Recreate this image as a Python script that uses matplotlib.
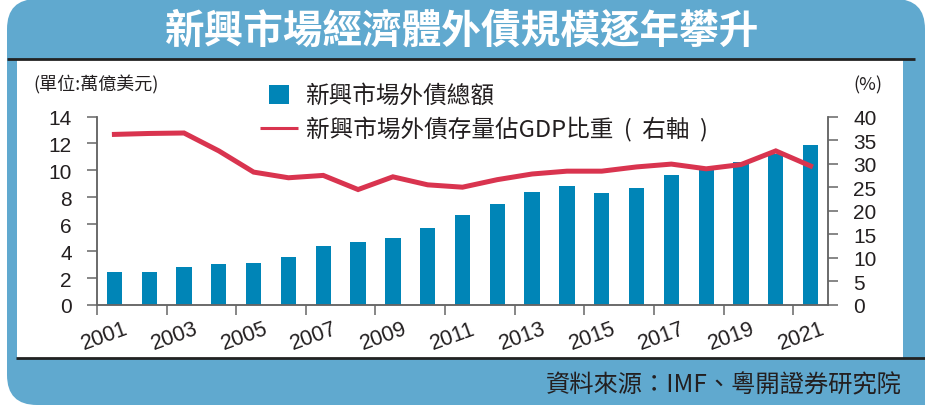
import matplotlib
matplotlib.use("Agg")
import matplotlib.pyplot as plt
from matplotlib.patches import FancyBboxPatch, Rectangle
from matplotlib.transforms import ScaledTranslation

plt.rcParams["font.family"] = ["Noto Sans CJK TC", "DejaVu Sans"]

# data
YEARS = list(range(2001, 2022))
DEBT_TOTAL = [2.45, 2.45, 2.82, 3.05, 3.12, 3.57, 4.38, 4.68, 4.98, 5.72, 6.69,
              7.50, 8.42, 8.86, 8.34, 8.69, 9.68, 10.2, 10.62, 11.2, 11.9]   # 萬億美元
DEBT_GDP = [36.2, 36.4, 36.5, 32.7, 28.2, 27.0, 27.5, 24.5, 27.2, 25.5, 25.0,
            26.6, 27.8, 28.4, 28.4, 29.3, 29.9, 28.9, 29.8, 32.7, 29.5]      # %
XTICKS = list(range(2001, 2022, 2))
LEFT_TICKS = list(range(0, 15, 2))
RIGHT_TICKS = list(range(0, 41, 5))

TITLE = "新興市場經濟體外債規模逐年攀升"
LEG_BAR = "新興市場外債總額"
LEG_LINE = "新興市場外債存量佔GDP比重  (  右軸  )"
UNIT_L = "(單位:萬億美元)"
UNIT_R = "(%)"
SOURCE = "資料來源：IMF、粵開證券研究院"

BLUE_BG = "#60A9CF"
BAR_C = "#0085B7"
LINE_C = "#D9344F"
AXIS_C = "#666666"
TXT_C = "#231F20"
NUM_FONT = "Liberation Sans"

W, H = 925, 406
fig = plt.figure(figsize=(W / 100, H / 100), dpi=100)
fig.patch.set_facecolor("white")

# background frame, drawn in pixel coordinates
bg = fig.add_axes([0, 0, 1, 1], zorder=0)
bg.set_xlim(0, W); bg.set_ylim(H, 0); bg.axis("off")
bg.add_patch(FancyBboxPatch((7, 0), W - 7, H, boxstyle="round,pad=0,rounding_size=30",
                            fc=BLUE_BG, ec="none"))
bg.add_patch(Rectangle((W - 40, H - 40), 40, 40, fc=BLUE_BG, ec="none"))
bg.add_patch(Rectangle((17, 60), 903 - 17, 359 - 60, fc="white", ec="none"))
bg.plot([7, 915], [60, 60], color="#222222", lw=2, solid_capstyle="butt")
bg.plot([16, W], [359, 359], color="#222222", lw=2, solid_capstyle="butt")
bg.text(462, 31, TITLE, color="white", fontsize=28.5, fontweight="bold",
        ha="center", va="center")
bg.text(902, 385, SOURCE, color=TXT_C, fontsize=17.5, ha="right", va="center")
bg.text(33, 85, UNIT_L, color=TXT_C, fontsize=13, ha="left", va="center")
bg.text(882, 85, UNIT_R, color=TXT_C, fontsize=13, ha="right", va="center")

# legend keys
bg.add_patch(Rectangle((269, 86), 20, 19, fc=BAR_C, ec="none"))
bg.plot([260, 298], [129, 129], color=LINE_C, lw=2.2, solid_capstyle="butt")
bg.text(306, 96, LEG_BAR, color=TXT_C, fontsize=17, ha="left", va="center")
bg.text(306, 130, LEG_LINE, color=TXT_C, fontsize=17, ha="left", va="center")

# main chart: bars sit in the middle of their year's interval
x = [y + 0.5 for y in YEARS]
ax = fig.add_axes([97 / W, 1 - 306 / H, (828 - 97) / W, (306 - 117.5) / H], zorder=2)
ax.patch.set_alpha(0)
ax.bar(x, DEBT_TOTAL, width=0.44, color=BAR_C, zorder=2)
ax.set_xlim(2001, 2022)
ax.set_ylim(0, 14)
ax.set_yticks(LEFT_TICKS)
ax.set_xticks(XTICKS)

ax2 = ax.twinx()
ax2.plot(x, DEBT_GDP, color=LINE_C, lw=3.6, zorder=3, solid_joinstyle="miter")
ax2.set_ylim(0, 40)
ax2.set_yticks(RIGHT_TICKS)

for a in (ax, ax2):
    a.spines["top"].set_visible(False)
    for s in ("left", "right", "bottom"):
        a.spines[s].set_color(AXIS_C)
        a.spines[s].set_linewidth(1.1)
    a.tick_params(colors=AXIS_C, length=7.2, width=1.1, labelcolor=TXT_C,
                  labelsize=15, pad=11)
ax.tick_params(axis="x", pad=2)

for lab in ax.get_yticklabels() + ax2.get_yticklabels():
    lab.set_fontfamily(NUM_FONT)
shift = ScaledTranslation(8 / 100, 0, fig.dpi_scale_trans)
for lab in ax.get_xticklabels():
    lab.set_fontfamily(NUM_FONT)
    lab.set_fontsize(15.5)
    lab.set_rotation(20)
    lab.set_ha("center")
    lab.set_va("top")
    lab.set_transform(lab.get_transform() + shift)

fig.savefig("out.png", dpi=100, facecolor=fig.get_facecolor())
